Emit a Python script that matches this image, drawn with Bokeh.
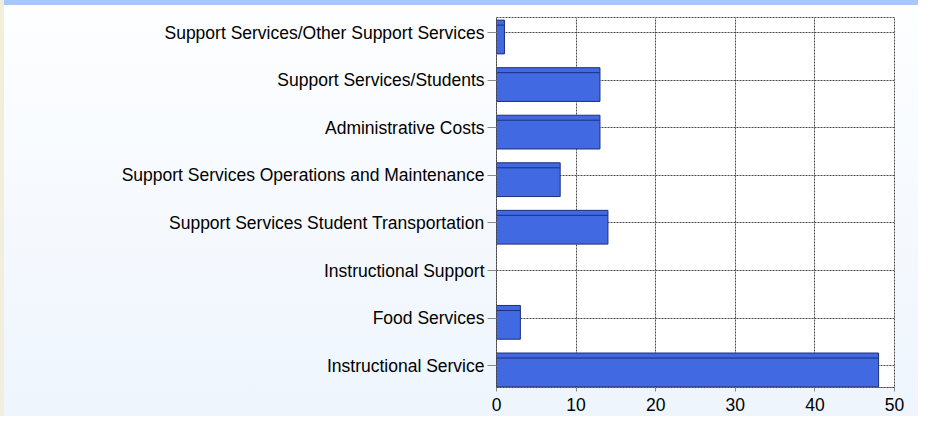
from bokeh.plotting import figure
from bokeh.models import Range1d, FixedTicker
from bokeh.embed import file_html
from bokeh.resources import INLINE

# Data (bottom to top)
categories = [
    "Instructional Service",
    "Food Services",
    "Instructional Support",
    "Support Services Student Transportation",
    "Support Services Operations and Maintenance",
    "Administrative Costs",
    "Support Services/Students",
    "Support Services/Other Support Services",
]
values = [48, 3, 0, 14, 8, 13, 13, 1]
x_ticks = [0, 10, 20, 30, 40, 50]

FONT = "Liberation Sans"
FS = "17.5px"
BAR_FILL = "#4169e1"
BAR_LINE = "#1f2f7a"
GRID = "#4a4a4a"
TICK = "#8a8a8a"

positions = list(range(len(categories)))
bar_offset = -0.09
bar_height = 0.71
strip = 0.105

p = figure(
    width=918, height=416,
    x_range=Range1d(0, 50), y_range=Range1d(-0.46, 7.32),
    output_backend="svg", toolbar_location=None,
    min_border_left=492, min_border_right=28,
    min_border_top=17, min_border_bottom=29,
)
p.background_fill_color = "white"
p.border_fill_color = None
p.styles = {
    "background": "linear-gradient(to bottom, #a9c6f8 0px, #a9c6f8 5px, "
                  "#fdfeff 5px, #eef5fd 100%)",
    "border-left": "4px solid #f1eedb",
}
p.outline_line_color = GRID
p.outline_line_dash = "2 1"
p.outline_line_width = 1

bar_y = [pos + bar_offset for pos, v in zip(positions, values) if v > 0]
bar_v = [v for v in values if v > 0]
p.hbar(y=bar_y, left=0, right=bar_v, height=bar_height,
       fill_color=BAR_FILL, line_color=BAR_LINE, line_width=1)
strip_y = [y + bar_height / 2 - strip for y in bar_y]
p.segment(x0=[0] * len(bar_v), x1=bar_v, y0=strip_y, y1=strip_y,
          line_color=BAR_LINE, line_width=1)

# grids
p.xgrid.ticker = FixedTicker(ticks=x_ticks)
p.ygrid.ticker = FixedTicker(ticks=positions)
for g in (p.xgrid, p.ygrid):
    g.grid_line_color = GRID
    g.grid_line_dash = "2 1"
    g.grid_line_width = 1

# x axis
p.xaxis.ticker = FixedTicker(ticks=x_ticks)
p.xaxis.axis_line_color = GRID
p.xaxis.axis_line_dash = "2 1"
p.xaxis.major_tick_line_color = TICK
p.xaxis.major_tick_out = 4
p.xaxis.major_tick_in = 0
p.xaxis.minor_tick_line_color = None
p.xaxis.major_label_text_font = FONT
p.xaxis.major_label_text_font_size = FS
p.xaxis.major_label_text_color = "#000000"
p.xaxis.major_label_standoff = 6

# y axis
p.yaxis.ticker = FixedTicker(ticks=positions)
p.yaxis.major_label_overrides = {i: c for i, c in zip(positions, categories)}
p.yaxis.axis_line_color = GRID
p.yaxis.axis_line_dash = "2 1"
p.yaxis.major_tick_line_color = TICK
p.yaxis.major_tick_line_width = 1
p.yaxis.major_tick_out = 9
p.yaxis.major_tick_in = 0
p.yaxis.minor_tick_line_color = None
p.yaxis.major_label_text_font = FONT
p.yaxis.major_label_text_font_size = FS
p.yaxis.major_label_text_color = "#000000"
p.yaxis.major_label_standoff = 3

open("out.html", "w").write(file_html(p, INLINE))
